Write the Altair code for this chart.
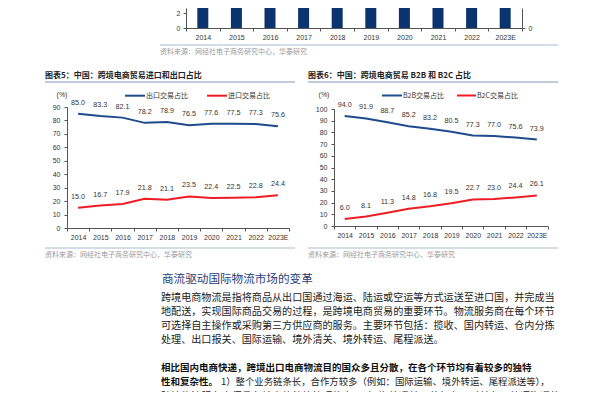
import altair as alt
import pandas as pd

# ---------------- data ----------------
years = ["2014", "2015", "2016", "2017", "2018", "2019", "2020", "2021", "2022", "2023E"]
trade_scale = [4.2, 5.4, 6.7, 8.1, 9.0, 10.5, 12.5, 14.2, 15.7, 16.9]
export_share = [85.0, 83.3, 82.1, 78.2, 78.9, 76.5, 77.6, 77.5, 77.3, 75.6]
import_share = [15.0, 16.7, 17.9, 21.8, 21.1, 23.5, 22.4, 22.5, 22.8, 24.4]
b2b_share = [94.0, 91.9, 88.7, 85.2, 83.2, 80.5, 77.3, 77.0, 75.6, 73.9]
b2c_share = [6.0, 8.1, 11.3, 14.8, 16.8, 19.5, 22.7, 23.0, 24.4, 26.1]

title5 = "图表5：中国：跨境电商贸易进口和出口占比"
title6 = "图表6：中国：跨境电商贸易 B2B 和 B2C 占比"
legend5 = ["出口交易占比", "进口交易占比"]
legend6 = ["B2B交易占比", "B2C交易占比"]
source = "资料来源：网经社电子商务研究中心，华泰研究"
heading = "商流驱动国际物流市场的变革"
para1 = [
    "跨境电商物流是指将商品从出口国通过海运、陆运或空运等方式运送至进口国，并完成当",
    "地配送，实现国际商品交易的过程，是跨境电商贸易的重要环节。物流服务商在每个环节",
    "可选择自主操作或采购第三方供应商的服务。主要环节包括：揽收、国内转运、仓内分拣",
    "处理、出口报关、国际运输、境外清关、境外转运、尾程派送。",
]
para2_bold = ["相比国内电商快递，跨境出口电商物流目的国众多且分散，在各个环节均有着较多的独特", "性和复杂性。"]
para2_rest = "1）整个业务链条长，合作方较多（例如：国际运输、境外转运、尾程派送等），"
para2_last = "跨境物流服务商须具备较高的统筹管理能力；2）海外通关环节复杂，对关务、外语沟通能"

# ---------------- style ----------------
W, H = 584, 384
OX, OY = 8, 8
NAVY = "#0a3370"
BLUE = "#1f4a8c"
RED = "#ee1c25"
RULE = "#a9bccf"
NUM_FONT = "Liberation Sans, Arial, sans-serif"
CJK = "Noto Sans CJK SC, sans-serif"


def px(x):
    return x - OX


def py(y):
    return y - OY


def axis(orient, offset, pad=2, **kw):
    return alt.Axis(orient=orient, offset=offset, title=None, grid=False,
                    labelFontSize=7, labelColor="#333", labelFont=NUM_FONT,
                    domainColor="#555", tickColor="#555", tickSize=3,
                    labelPadding=pad, labelFlush=False, labelOverlap=False, **kw)


one = pd.DataFrame({"k": [0]})


def label(text, x, y, size=7, color="#333", weight="normal", font=CJK, align="left"):
    return alt.Chart(one).mark_text(text=text, fontSize=size, color=color, fontWeight=weight,
                                    font=font, align=align, baseline="middle").encode(
        x=alt.value(px(x)), y=alt.value(py(y)))


def hrule(x1, x2, y, color, w=1.0):
    return alt.Chart(one).mark_rule(color=color, strokeWidth=w).encode(
        x=alt.value(px(x1)), x2=alt.value(px(x2)), y=alt.value(py(y)))


layers = []

# ---------------- top bar chart (bottom part visible) ----------------
top = pd.DataFrame({"year": years, "scale": trade_scale})
xs_top = alt.Scale(type="band", domain=years, range=[px(186), px(522)], paddingInner=0, paddingOuter=0)
layers.append(
    alt.Chart(top).mark_bar(size=11, color=NAVY, clip=True).encode(
        x=alt.X("year:N", sort=years, scale=xs_top,
                axis=axis("bottom", py(28) - H, tickBand="extent", labelAngle=0)),
        y=alt.Y("scale:Q", scale=alt.Scale(domain=[0, 20 / 7.3], range=[py(28), 0], nice=False),
                axis=axis("left", -px(186), pad=3, values=[0, 2])),
    )
)
layers.append(
    alt.Chart(top).mark_bar(size=11, opacity=0, clip=True).encode(
        x=alt.X("year:N", sort=years, scale=xs_top, axis=None),
        y=alt.Y("scale:Q", scale=alt.Scale(domain=[0, 20 / 4.4], range=[py(28), 0], nice=False),
                axis=axis("right", px(522) - W, pad=3, values=[0, 5])),
    )
)
layers += [hrule(160, 558, 45, RULE, 1.2), label(source, 160, 51.5, size=7, color="#9a9a9a")]


# ---------------- line panels ----------------
def line_panel(a_vals, b_vals, x0, x1, y0, ytop, ymax):
    df = pd.DataFrame({"year": years, "a": a_vals, "b": b_vals})
    xs = alt.Scale(type="band", domain=years, range=[px(x0), px(x1)], paddingInner=0, paddingOuter=0)
    ys = alt.Scale(domain=[0, ymax], range=[py(y0), py(ytop)], nice=False)
    base = alt.Chart(df)
    out = []
    for field, color, first in [("a", BLUE, True), ("b", RED, False)]:
        x = alt.X("year:N", sort=years, scale=xs, bandPosition=0.5,
                  axis=axis("bottom", py(y0) - H, tickBand="extent", labelAngle=0) if first else None)
        y = alt.Y(f"{field}:Q", scale=ys,
                  axis=axis("left", -px(x0), pad=4, values=list(range(0, ymax + 1, 10))) if first else None)
        out.append(base.mark_line(color=color, strokeWidth=2).encode(x=x, y=y))
        xn = alt.X("year:N", sort=years, scale=xs, bandPosition=0.5, axis=None)
        yn = alt.Y(f"{field}:Q", scale=ys, axis=None)
        out.append(base.mark_text(dy=-11, fontSize=7.2, font=NUM_FONT, color="#333").encode(
            x=xn, y=yn, text=alt.Text(f"{field}:Q", format=".1f")))
    return out


layers += line_panel(export_share, import_share, 67, 289, 228, 107, 90)
layers += line_panel(b2b_share, b2c_share, 334, 547.5, 226, 109, 100)

# titles, rules, legends, sources of the two panels
layers += [
    label(title5, 45, 76, size=8, color="#222", weight="bold"),
    label(title6, 308, 76, size=8, color="#222", weight="bold"),
    hrule(45, 295, 82, RULE, 1.5), hrule(308, 558, 82, RULE, 1.5),
    label("(%)", 62, 94.5, size=7, font=NUM_FONT, align="center"),
    label("(%)", 324, 95, size=7, font=NUM_FONT, align="center"),
    hrule(125, 145, 95.7, BLUE, 2), label(legend5[0], 146, 95.7),
    hrule(207, 227, 95.7, RED, 2), label(legend5[1], 228, 95.7),
    hrule(382, 402, 95.5, BLUE, 2), label(legend6[0], 403, 95.5),
    hrule(457, 476, 95.5, RED, 2), label(legend6[1], 477, 95.5),
    hrule(45, 295, 248, RULE, 1.2), hrule(308, 558, 248, RULE, 1.2),
    label(source, 45, 254.5, size=7, color="#9a9a9a"),
    label(source, 308, 254.5, size=7, color="#9a9a9a"),
]

# ---------------- body text ----------------
layers.append(label(heading, 162, 280, size=11.6, color="#1f3d73"))
for i, line in enumerate(para1):
    layers.append(label(line, 161, 298 + 14 * i, size=10.1, color="#222"))
layers.append(label(para2_bold[0], 161, 368, size=9.5, color="#111", weight="bold"))
layers.append(label(para2_bold[1], 161, 382, size=9.5, color="#111", weight="bold"))
layers.append(label(para2_rest, 221, 382, size=9.4, color="#222"))
layers.append(label(para2_last, 161, 396.5, size=10.1, color="#222"))

chart = (
    alt.layer(*layers)
    .resolve_scale(x="independent", y="independent")
    .properties(width=W, height=H, autosize=alt.AutoSizeParams(type="none"), padding=0)
    .configure_view(stroke=None)
)

chart.save("out.html", embed_options={"renderer": "svg", "actions": False})
